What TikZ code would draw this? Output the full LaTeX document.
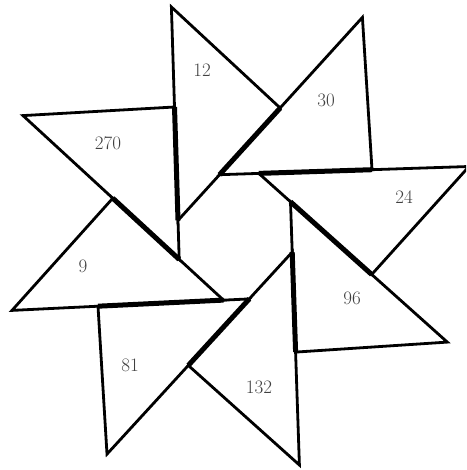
\documentclass[tikz,border=0pt]{standalone}
\begin{document}
\begin{tikzpicture}[x=1pt,y=-1pt,
  tri/.style={draw=black,line width=2.8pt,line join=miter},
  overlap/.style={draw=black,line width=5pt},
  lab/.style={text=black!75,font=\fontsize{19}{19}\selectfont,inner sep=0pt}]
\useasboundingbox (0,0) rectangle (466,470);
\begin{scope}
\clip (0,0) rectangle (466,470);
% A = outer end of hypotenuse, P = right angle, B = inner end of hypotenuse
% triangle 12
\coordinate (A1) at (171.4,7);    \coordinate (P1) at (280.2,108.0); \coordinate (B1) at (178.0,220.4);
% triangle 30
\coordinate (A2) at (362.4,17.4); \coordinate (P2) at (372.0,169.7); \coordinate (B2) at (219.5,174.7);
% triangle 24
\coordinate (A3) at (469,166.5);  \coordinate (P3) at (371.7,274.5); \coordinate (B3) at (258.8,173.4);
% triangle 96
\coordinate (A4) at (447.3,342.1);\coordinate (P4) at (295.6,352.1); \coordinate (B4) at (290.5,201.8);
% triangle 132
\coordinate (A5) at (299.4,465);  \coordinate (P5) at (188.3,365.4); \coordinate (B5) at (292.2,252.1);
% triangle 81
\coordinate (A6) at (107,454.1);  \coordinate (P6) at (98,306.2);    \coordinate (B6) at (249.3,298.9);
% triangle 9
\coordinate (A7) at (12,310.4);   \coordinate (P7) at (112.8,198.2); \coordinate (B7) at (223.5,300.1);
% triangle 270
\coordinate (A8) at (23,115.6);   \coordinate (P8) at (174.5,107);   \coordinate (B8) at (179.2,259.4);
\foreach \i in {1,...,8} {
  \draw[tri] (A\i) -- (P\i) -- (B\i) -- cycle;
}
% doubled (overlapping) edges
\draw[overlap] (B2) -- (P1);
\draw[overlap] (B3) -- (P2);
\draw[overlap] (B4) -- (P3);
\draw[overlap] (B5) -- (P4);
\draw[overlap] (B6) -- (P5);
\draw[overlap] (B7) -- (P6);
\draw[overlap] (B8) -- (P7);
\draw[overlap] (B1) -- (P8);
\end{scope}
\node[lab] (t12)  at (202,70)  {12};
\node[lab] (t30)  at (326,100) {30};
\node[lab] (t270) at (108,143) {270};
\node[lab] (t24)  at (404,197) {24};
\node[lab] (t9)   at (83,266)  {9};
\node[lab] (t81)  at (130,365) {81};
\node[lab] (t96)  at (352,298) {96};
\node[lab] (t132) at (259,387) {132};
\end{tikzpicture}
\end{document}
